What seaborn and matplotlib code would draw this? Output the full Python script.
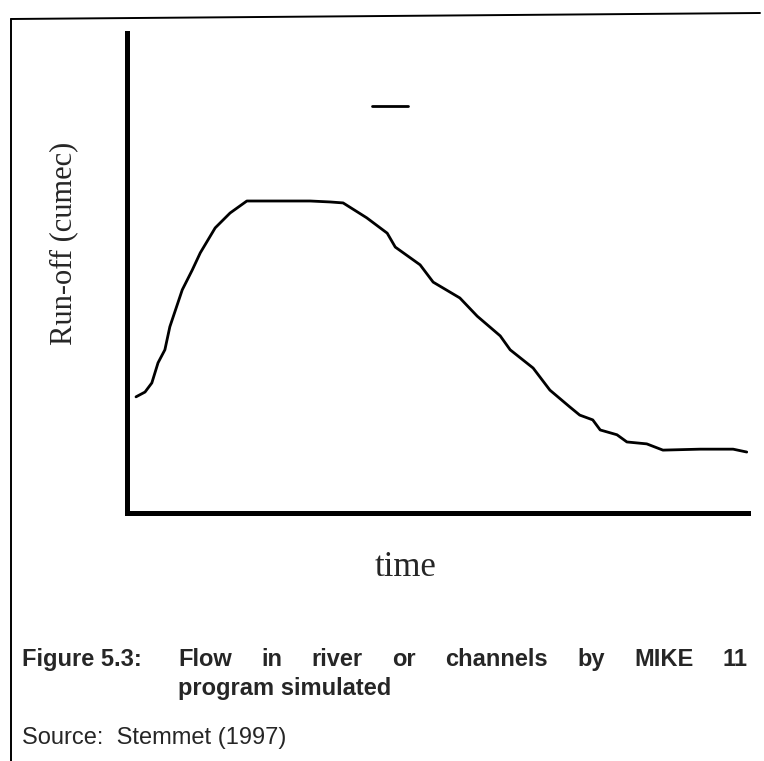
import numpy as np
import pandas as pd
import matplotlib.pyplot as plt
import seaborn as sns
from matplotlib.lines import Line2D

# hydrograph (time and run-off in relative units)
time_vals = [1.45, 2.9, 4.0, 5.0, 6.1, 6.9, 8.9, 10.5, 11.8, 14.2, 16.6, 19.3, 23.5, 29.5,
             32.7, 34.8, 38.6, 41.9, 43.2, 47.2, 49.3, 53.6, 56.4, 60.1, 61.7, 65.4, 68.1,
             71.3, 72.9, 75.0, 76.2, 78.9, 80.5, 83.7, 86.3, 92.3, 97.6, 99.8]
runoff_vals = [24.2, 25.2, 27.1, 31.3, 34.0, 38.8, 46.5, 50.6, 54.2, 59.4, 62.5, 65.0, 65.0, 65.0,
               64.8, 64.6, 61.5, 58.3, 55.4, 51.7, 48.1, 44.8, 41.0, 36.9, 34.0, 30.2, 25.6,
               22.1, 20.4, 19.4, 17.3, 16.3, 14.8, 14.4, 13.1, 13.3, 13.3, 12.7]

# small stray dash above the curve
dash_x = [39.5, 45.2]
dash_y = [84.8, 84.8]

caption_label = "Figure 5.3:"
caption_line1 = ["Flow", "in", "river", "or", "channels", "by", "MIKE", "11"]
caption_line2 = "program simulated"
source_text = "Source:  Stemmet (1997)"

sns.set_theme(style="white")
plt.rcParams['font.family'] = ['Liberation Sans', 'DejaVu Sans']

W, H = 764, 761
fig = plt.figure(figsize=(W / 100, H / 100), dpi=100)
ax = fig.add_axes([127 / W, 1 - 513 / H, (748 - 127) / W, (513 - 33) / H])

df = pd.DataFrame({"time": time_vals, "runoff": runoff_vals})
sns.lineplot(data=df, x="time", y="runoff", color="black", linewidth=2.0, ax=ax, sort=False)
sns.lineplot(x=dash_x, y=dash_y, color="black", linewidth=2.0, ax=ax)

ax.set_xlim(0, 100)
ax.set_ylim(0, 100)
ax.set_xticks([])
ax.set_yticks([])
sns.despine(ax=ax)
for side in ["left", "bottom"]:
    ax.spines[side].set_linewidth(3.6)
    ax.spines[side].set_color("black")
ax.set_xlabel("")
ax.set_ylabel("")

# axis titles in a serif face
fig.text(64 / W, 1 - 243 / H, "Run-off (cumec)", rotation=90, ha="center", va="center",
         family="Liberation Serif", fontsize=22)
fig.text(406 / W, 1 - 567 / H, "time", ha="center", va="center",
         family="Liberation Serif", fontsize=25)

# caption, first line justified to the right margin
fs = 17
fig.text(22 / W, 1 - 666 / H, caption_label, fontsize=fs, fontweight="bold", va="baseline")
x0, x1 = 178, 748
words = [fig.text(0, 1 - 666 / H, w, fontsize=fs, fontweight="bold", va="baseline")
         for w in caption_line1]
renderer = fig.canvas.get_renderer()
widths = [t.get_window_extent(renderer).width for t in words]
gap = (x1 - x0 - sum(widths)) / (len(words) - 1)
pos = x0
for t, wd in zip(words, widths):
    t.set_x(pos / W)
    pos += wd + gap
fig.text(x0 / W, 1 - 695 / H, caption_line2, fontsize=fs, fontweight="bold", va="baseline")
fig.text(22 / W, 1 - 744 / H, source_text, fontsize=fs, va="baseline")

# page frame
fig.add_artist(Line2D([11 / W, 760 / W], [1 - 19 / H, 1 - 13 / H], color="black", lw=1.4,
                      transform=fig.transFigure))
fig.add_artist(Line2D([11 / W, 11 / W], [1 - 19 / H, 0], color="black", lw=1.4,
                      transform=fig.transFigure))

fig.savefig("out.png", dpi=100)
